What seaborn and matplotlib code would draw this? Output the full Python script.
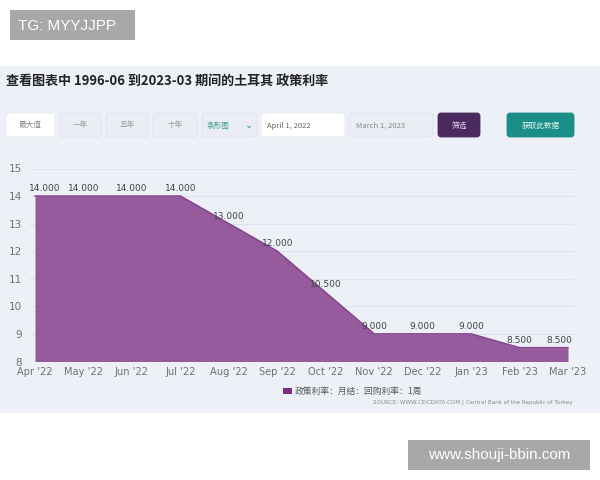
import matplotlib
matplotlib.use("Agg")
import matplotlib.pyplot as plt
from matplotlib.patches import FancyBboxPatch, Rectangle
import seaborn as sns
import pandas as pd

# ---- data ----
months = ["Apr '22", "May '22", "Jun '22", "Jul '22", "Aug '22", "Sep '22",
          "Oct '22", "Nov '22", "Dec '22", "Jan '23", "Feb '23", "Mar '23"]
rates = [14.0, 14.0, 14.0, 14.0, 13.0, 12.0, 10.5, 9.0, 9.0, 9.0, 8.5, 8.5]
y_ticks = [8, 9, 10, 11, 12, 13, 14, 15]
title = "查看图表中 1996-06 到2023-03 期间的土耳其 政策利率"
buttons = ["最大值", "一年", "五年", "十年"]
chart_type = "条形图"
date_from = "April 1, 2022"
date_to = "March 1, 2023"
filter_btn = "筛选"
get_btn = "获取此数据"
legend_label = "政策利率：月结：回购利率：1周"
source_text = "SOURCE: WWW.CEICDATA.COM | Central Bank of the Republic of Turkey"
wm_top = "TG: MYYJJPP"
wm_bottom = "www.shouji-bbin.com"

sns.set_style("white")
CJK = ["Noto Sans CJK SC", "DejaVu Sans"]
plt.rcParams["font.family"] = CJK

W, H = 600, 480
fig = plt.figure(figsize=(6, 4.8), dpi=100)

# background axes in pixel coordinates
bg = fig.add_axes([0, 0, 1, 1], zorder=0)
bg.set_xlim(0, W)
bg.set_ylim(H, 0)
bg.axis("off")

PANEL = "#edf1f7"
bg.add_patch(Rectangle((0, 66), 600, 347, color=PANEL, lw=0))

# watermarks
bg.add_patch(Rectangle((10, 10), 125, 30, color="#a8a8a8", lw=0))
bg.text(18, 25.5, wm_top, color="white", fontsize=11, va="center", ha="left",
        family=["Liberation Sans", "DejaVu Sans"])
bg.add_patch(Rectangle((408, 440), 182, 30, color="#a8a8a8", lw=0))
bg.text(499, 455.5, wm_bottom, color="white", fontsize=11, va="center", ha="center",
        family=["Liberation Sans", "DejaVu Sans"])

# title
bg.text(6, 81.5, title, fontsize=9.4, fontweight="bold", color="#222222",
        va="center", ha="left", family=CJK)

def btn(x0, x1, face, edge, text, tcolor, ha="center", tx=None, fs=5.5):
    bg.add_patch(FancyBboxPatch((x0, 113), x1 - x0, 24,
                                boxstyle="round,pad=0,rounding_size=3",
                                fc=face, ec=edge, lw=0.6))
    if tx is None:
        tx = (x0 + x1) / 2
    bg.text(tx, 125.5, text, fontsize=fs, color=tcolor, ha=ha, va="center", family=CJK)

btn(6, 55, "#ffffff", "#e6eaf0", buttons[0], "#888888")
btn(60, 101, "#eaeef4", "#dde2ea", buttons[1], "#999999")
btn(106, 148, "#eaeef4", "#dde2ea", buttons[2], "#999999")
btn(153, 197, "#eaeef4", "#dde2ea", buttons[3], "#999999")
btn(202, 257, "#eaeef4", "#dde2ea", chart_type, "#3a9a8a", tx=218)
bg.text(249, 125.5, "⌄", fontsize=7, color="#3a9a8a", ha="center", va="center",
        family=["DejaVu Sans"])
btn(261, 345, "#ffffff", "#e6eaf0", date_from, "#666666", ha="left", tx=267)
btn(349, 433, "#eaeef4", "#dde2ea", date_to, "#888888", ha="left", tx=356)
btn(438, 480, "#4b2a5f", "#4b2a5f", filter_btn, "#e8d8f0")
btn(507, 574, "#1b8e88", "#1b8e88", get_btn, "#e6f6f4")

# legend & source
bg.add_patch(Rectangle((283, 388), 9, 6, color="#7b2d80", lw=0))
bg.text(295, 391, legend_label, fontsize=6.3, color="#555555", va="center",
        ha="left", family=CJK)
bg.text(573, 402, source_text, fontsize=4.1, color="#8a8a8a", va="center",
        ha="right", family=["DejaVu Sans"])

# ---- chart axes ----
px = 48.5
x_left = 35 - 0.12 * px
x_right = 568 + 0.15 * px
y_bot = 361.5
y_top = 168.5
ax = fig.add_axes([x_left / W, 1 - y_bot / H, (x_right - x_left) / W, (y_bot - y_top) / H],
                  zorder=1)
ax.patch.set_alpha(0)

df = pd.DataFrame({"idx": range(len(months)), "rate": rates})
FILL = "#955b9c"
ax.fill_between(df["idx"], df["rate"], 8, color=FILL, lw=0, zorder=2)
sns.lineplot(data=df, x="idx", y="rate", ax=ax, color="#86478d", lw=1.2, zorder=3)

ax.set_xlim(-0.12, len(months) - 1 + 0.15)
ax.set_ylim(8, 15)
ax.set_yticks(y_ticks)
ax.set_yticklabels([str(v) for v in y_ticks], fontsize=7.5, color="#707070",
                   family=["DejaVu Sans"])
ax.set_xticks(range(len(months)))
ax.set_xticklabels(months, fontsize=7.1, color="#707070", family=["DejaVu Sans"])
ax.tick_params(axis="both", length=0)
ax.tick_params(axis="y", pad=5)
ax.tick_params(axis="x", pad=4)
ax.set_xlabel("")
ax.set_ylabel("")
for s in ax.spines.values():
    s.set_visible(False)
ax.grid(axis="y", color="#dfe4ec", lw=0.8, zorder=0)
ax.grid(axis="x", visible=False)
ax.set_axisbelow(True)

n = len(months)
for i, v in enumerate(rates):
    dx = 0
    ha = "center"
    if i == 0:
        dx = 7
    elif i == n - 1:
        dx = 3
        ha = "right"
    ax.annotate(f"{v:.3f}", (i, v), xytext=(dx, 5.5), textcoords="offset points",
                ha=ha, va="center", fontsize=6.5, color="#444444",
                family=["DejaVu Sans"], zorder=4)

fig.savefig("out.png", dpi=100)
